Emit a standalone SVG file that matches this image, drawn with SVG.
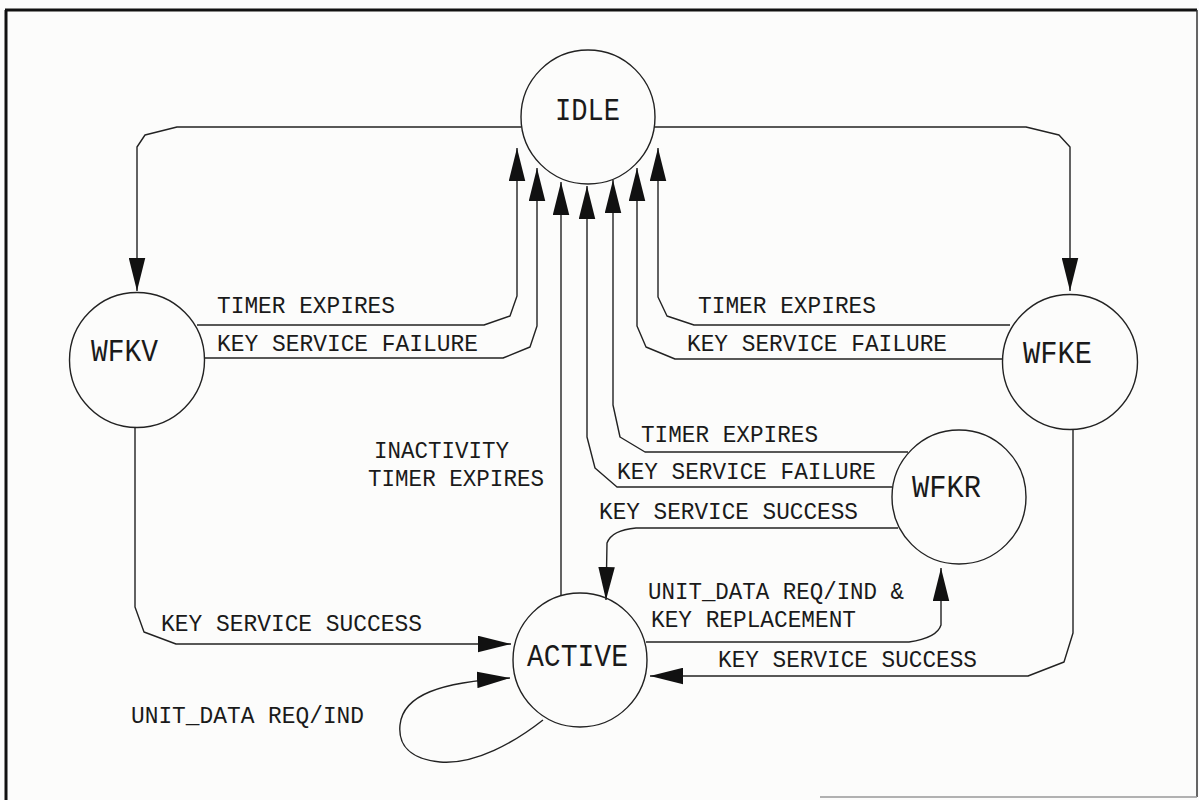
<svg xmlns="http://www.w3.org/2000/svg" width="1199" height="800" viewBox="0 0 1199 800">
<defs>
<marker id="ah" markerUnits="userSpaceOnUse" markerWidth="33" markerHeight="17" viewBox="0 0 32 16" refX="32" refY="8" orient="auto">
<path d="M0,0 L32,8 L0,16 Z" fill="#111"/>
</marker>
</defs>
<style>
.node circle{fill:none;stroke:#222;stroke-width:1.4}
.nl{font-family:"Liberation Mono","DejaVu Sans Mono",monospace;font-size:31px;fill:#1a1a1a}
.lb{font-family:"Liberation Mono","DejaVu Sans Mono",monospace;font-size:23px;fill:#1a1a1a}
.c path{fill:none;stroke:#222;stroke-width:1.4;stroke-linejoin:round}
.c .a{marker-end:url(#ah)}
</style>
<rect x="0" y="0" width="1199" height="800" fill="#fcfcfb"/>
<g id="frame">
<line x1="6" y1="10" x2="6" y2="800" stroke="#111" stroke-width="3"/>
<line x1="5" y1="10" x2="1197" y2="10" stroke="#111" stroke-width="3"/>
<line x1="1197" y1="10" x2="1197" y2="797" stroke="#333" stroke-width="1.5"/>
<line x1="820" y1="797" x2="1197" y2="797" stroke="#999" stroke-width="1.5"/>
</g>
<g class="c" id="connectors">
<path class="a" d="M521,127 L177,127 L145,135 L137,147 L137,291"/>
<path class="a" d="M654,127 L1026,127 L1059,135 L1070,147 L1070,291"/>
<path class="a" d="M197,325 L484,325 L510,316 L517,296 L517,148"/>
<path class="a" d="M205,358 L503,358 L530,347 L537,326 L537,168"/>
<path class="a" d="M1010,325 L694,325 L667,316 L658,297 L658,148"/>
<path class="a" d="M1003,359 L675,359 L646,347 L637,326 L637,168"/>
<path class="a" d="M908,452 L645,452 L620,437 L613,405 L613,180"/>
<path class="a" d="M892,487 L617,487 L595,468 L587,437 L587,186"/>
<path class="a" d="M561,596 L561,182"/>
<path class="a" d="M898,528 L636,528 Q612,530 607,543 L606,600"/>
<path class="a" d="M646,642 L909,642 Q937,638 941,625 L941,568"/>
<path class="a" d="M1073,429 L1073,633 L1064,662 L1028,676 L650,676"/>
<path class="a" d="M135,427 L135,607 L144,632 L176,644 L511,644"/>
<path class="a" d="M543,720 C515,742 475,765 440,762 C410,759 398,745 400,725 C403,695 440,682 510,678"/>
</g>
<g class="node" id="IDLE"><circle cx="588" cy="117" r="67"/><text class="nl" x="555" y="120" textLength="65" lengthAdjust="spacingAndGlyphs">IDLE</text></g>
<g class="node" id="WFKV"><circle cx="137" cy="360" r="67.5"/><text class="nl" x="91" y="361" textLength="67" lengthAdjust="spacingAndGlyphs">WFKV</text></g>
<g class="node" id="WFKE"><circle cx="1070" cy="362" r="67.5"/><text class="nl" x="1023" y="363" textLength="69" lengthAdjust="spacingAndGlyphs">WFKE</text></g>
<g class="node" id="WFKR"><circle cx="959" cy="497" r="67"/><text class="nl" x="912" y="497" textLength="69" lengthAdjust="spacingAndGlyphs">WFKR</text></g>
<g class="node" id="ACTIVE"><circle cx="580" cy="660" r="67"/><text class="nl" x="527" y="666" textLength="101" lengthAdjust="spacingAndGlyphs">ACTIVE</text></g>
<g id="labels">
<text class="lb" x="217" y="313" textLength="178" lengthAdjust="spacingAndGlyphs">TIMER EXPIRES</text>
<text class="lb" x="217" y="351" textLength="261" lengthAdjust="spacingAndGlyphs">KEY SERVICE FAILURE</text>
<text class="lb" x="698" y="313" textLength="178" lengthAdjust="spacingAndGlyphs">TIMER EXPIRES</text>
<text class="lb" x="687" y="351" textLength="260" lengthAdjust="spacingAndGlyphs">KEY SERVICE FAILURE</text>
<text class="lb" x="641" y="442" textLength="177" lengthAdjust="spacingAndGlyphs">TIMER EXPIRES</text>
<text class="lb" x="617" y="479" textLength="259" lengthAdjust="spacingAndGlyphs">KEY SERVICE FAILURE</text>
<text class="lb" x="599" y="519" textLength="259" lengthAdjust="spacingAndGlyphs">KEY SERVICE SUCCESS</text>
<text class="lb" x="374" y="458" textLength="135" lengthAdjust="spacingAndGlyphs">INACTIVITY</text>
<text class="lb" x="368" y="486" textLength="176" lengthAdjust="spacingAndGlyphs">TIMER EXPIRES</text>
<text class="lb" x="161" y="631" textLength="261" lengthAdjust="spacingAndGlyphs">KEY SERVICE SUCCESS</text>
<text class="lb" x="648" y="599" textLength="256" lengthAdjust="spacingAndGlyphs">UNIT_DATA REQ/IND &amp;</text>
<text class="lb" x="651" y="627" textLength="205" lengthAdjust="spacingAndGlyphs">KEY REPLACEMENT</text>
<text class="lb" x="718" y="667" textLength="259" lengthAdjust="spacingAndGlyphs">KEY SERVICE SUCCESS</text>
<text class="lb" x="131" y="723" textLength="233" lengthAdjust="spacingAndGlyphs">UNIT_DATA REQ/IND</text>
</g>
</svg>
